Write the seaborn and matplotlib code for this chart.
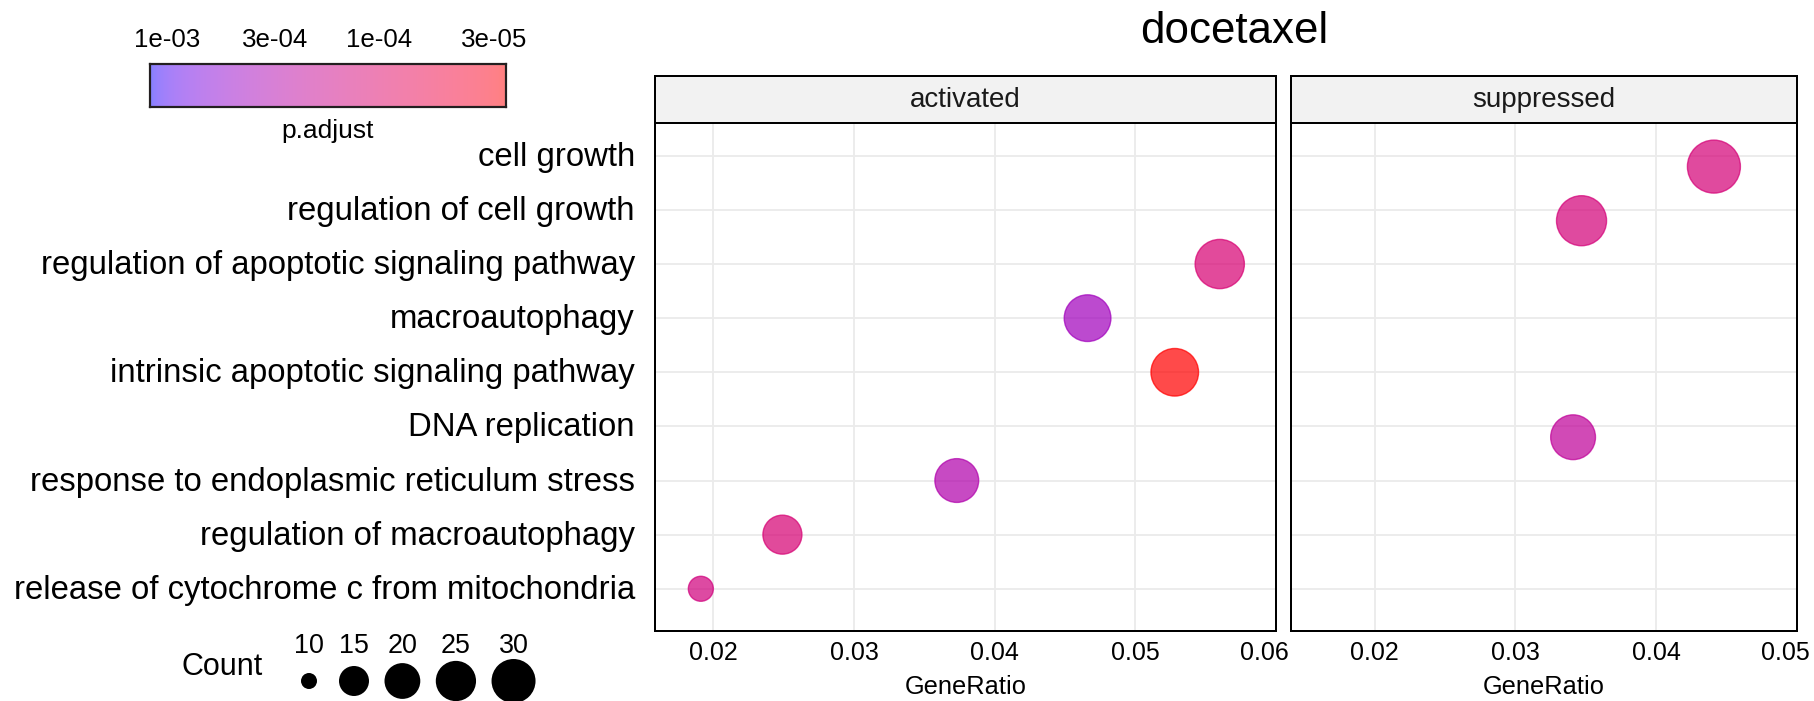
import numpy as np
import pandas as pd
import matplotlib
matplotlib.use("Agg")
import matplotlib.pyplot as plt
import matplotlib.transforms as mtransforms
import seaborn as sns
from matplotlib.colors import LogNorm, ListedColormap
from matplotlib.ticker import FixedLocator, NullLocator, FixedFormatter

# ---------------- data ----------------
terms = [
    "cell growth",
    "regulation of cell growth",
    "regulation of apoptotic signaling pathway",
    "macroautophagy",
    "intrinsic apoptotic signaling pathway",
    "DNA replication",
    "response to endoplasmic reticulum stress",
    "regulation of macroautophagy",
    "release of cytochrome c from mitochondria",
]

act_terms = [
    "regulation of apoptotic signaling pathway",
    "macroautophagy",
    "intrinsic apoptotic signaling pathway",
    "response to endoplasmic reticulum stress",
    "regulation of macroautophagy",
    "release of cytochrome c from mitochondria",
]
act_ratio = [0.0560, 0.0466, 0.0528, 0.0373, 0.0249, 0.0191]
act_count = [25, 22, 23, 19, 15, 10]
act_padj = [1.18e-4, 3.9e-4, 2.65e-5, 3.0e-4, 1.2e-4, 1.43e-4]

sup_terms = ["cell growth", "regulation of cell growth", "DNA replication"]
sup_ratio = [0.0441, 0.0347, 0.0341]
sup_count = [30, 26, 20]
sup_padj = [1.28e-4, 1.3e-4, 2.23e-4]

panels = ["activated", "suppressed"]
x_ticks = [0.02, 0.03, 0.04, 0.05, 0.06]
count_breaks = [10, 15, 20, 25, 30]
padj_ticks = [1e-3, 3e-4, 1e-4, 3e-5]
padj_tick_labels = ["1e-03", "3e-04", "1e-04", "3e-05"]
padj_limits = (2.65e-5, 1.11e-3)
title = "docetaxel"

# ---------------- style ----------------
sns.set_style("white")
plt.rcParams["font.family"] = ["Liberation Sans", "DejaVu Sans"]

W, H = 1815, 701
DPI = 100
PX = 72.0 / DPI  # points per pixel

# ---- Lab interpolated red -> blue gradient (like ggplot) ----
WHITE = np.array([0.95047, 1.0, 1.08883])
M = np.array([[0.4124564, 0.3575761, 0.1804375],
              [0.2126729, 0.7151522, 0.0721750],
              [0.0193339, 0.1191920, 0.9503041]])
Minv = np.linalg.inv(M)


def srgb_to_lab(c):
    c = np.asarray(c, float)
    lin = np.where(c <= 0.04045, c / 12.92, ((c + 0.055) / 1.055) ** 2.4)
    xyz = M @ lin / WHITE
    d = 6 / 29
    f = np.where(xyz > d ** 3, np.cbrt(xyz), xyz / (3 * d ** 2) + 4 / 29)
    return np.array([116 * f[1] - 16, 500 * (f[0] - f[1]), 200 * (f[1] - f[2])])


def lab_to_srgb(lab):
    L, a, b = lab
    fy_ = (L + 16) / 116
    f = np.array([fy_ + a / 500, fy_, fy_ - b / 200])
    d = 6 / 29
    xyz = np.where(f > d, f ** 3, 3 * d ** 2 * (f - 4 / 29)) * WHITE
    lin = np.clip(Minv @ xyz, 0, 1)
    return np.where(lin <= 0.0031308, 12.92 * lin, 1.055 * lin ** (1 / 2.4) - 0.055)


lab_red = srgb_to_lab([1, 0, 0])
lab_blue = srgb_to_lab([0, 0, 1])
grad = np.array([lab_to_srgb(lab_red * (1 - t) + lab_blue * t)
                 for t in np.linspace(0, 1, 256)])
grad = np.clip(grad, 0, 1)
cmap_pts = ListedColormap(grad)
cmap_bar = ListedColormap(0.5 * grad + 0.5)
norm = LogNorm(vmin=padj_limits[0], vmax=padj_limits[1])


# size mapping (pixel diameter -> scatter area in pt^2)
def count_to_area(c):
    d = 25.0 + 6.26 * np.sqrt(max(c - 10, 0))
    return (d * PX) ** 2


all_counts = sorted(set(act_count + sup_count))
size_map = {c: count_to_area(c) for c in all_counts}

df_act = pd.DataFrame({"Description": act_terms, "GeneRatio": act_ratio,
                       "Count": act_count, "p.adjust": act_padj})
df_sup = pd.DataFrame({"Description": sup_terms, "GeneRatio": sup_ratio,
                       "Count": sup_count, "p.adjust": sup_padj})
df_act["y"] = [terms.index(t) for t in df_act["Description"]]
df_sup["y"] = [terms.index(t) + 0.2 for t in df_sup["Description"]]

fig = plt.figure(figsize=(W / DPI, H / DPI), dpi=DPI)


def fx(px):
    return px / W


def fy(py):
    return 1 - py / H


def shift(artist, dx_px, dy_px=0.0):
    artist.set_transform(artist.get_transform() +
                         mtransforms.Affine2D().translate(dx_px, dy_px))


panel_top, panel_bot = 123.3, 631.0
strip_top = 76.0
boxes = {"activated": (655, 1276, 0.01584, 0.0600, df_act),
         "suppressed": (1291, 1797, 0.01407, 0.04996, df_sup)}

for name in panels:
    x0, x1, lo, hi, df = boxes[name]
    ax = fig.add_axes([fx(x0), fy(panel_bot), fx(x1 - x0), (panel_bot - panel_top) / H])
    sns.scatterplot(data=df, x="GeneRatio", y="y", hue="p.adjust", hue_norm=norm,
                    palette=cmap_pts, size="Count", sizes=size_map, alpha=0.71,
                    edgecolor="face", linewidth=1.0, legend=False, ax=ax, zorder=3)
    ax.set_xlim(lo, hi)
    ax.set_ylim(8.78, -0.6)
    ticks = [t for t in x_ticks if lo <= t <= hi + 1e-4]
    ax.set_xticks(ticks)
    ax.set_xticklabels([f"{t:.2f}" for t in ticks])
    ax.set_yticks(range(len(terms)))
    if name == "activated":
        ax.set_yticklabels(terms)
    else:
        ax.set_yticklabels([])
    ax.tick_params(axis="y", length=0, pad=20 * PX, labelsize=23.7, labelcolor="black")
    ax.tick_params(axis="x", length=0, pad=7.4, labelsize=18, labelcolor="black")
    for lab in ax.get_yticklabels():
        shift(lab, 0, 2.0)
    # last tick label sits slightly inside the panel edge as in the reference
    xl = ax.get_xticklabels()
    if ticks and abs(ticks[-1] - hi) < 1e-3:
        shift(xl[-1], -12.0)
    ax.grid(True, color="#EBEBEB", linewidth=1.3)
    ax.set_axisbelow(True)
    for s in ax.spines.values():
        s.set_linewidth(2 * PX)
        s.set_color("black")
    ax.set_ylabel("")
    ax.set_xlabel("GeneRatio", fontsize=18.3, color="black")
    ax.xaxis.set_label_coords(0.5, -44.0 / (panel_bot - panel_top))
    ax.xaxis.label.set_va("top")

    # strip
    sax = fig.add_axes([fx(x0), fy(panel_top), fx(x1 - x0), (panel_top - strip_top) / H])
    sax.set_facecolor("#F2F2F2")
    sax.set_xticks([])
    sax.set_yticks([])
    for s in sax.spines.values():
        s.set_linewidth(2 * PX)
        s.set_color("black")
    sax.text(0.5, 0.5, name, ha="center", va="center", fontsize=20,
             color="#1A1A1A", transform=sax.transAxes)

# title
fig.text(fx(1234), fy(43), title, ha="center", va="baseline", fontsize=31.6, color="black")

# ---------------- colour bar legend ----------------
cax = fig.add_axes([fx(150), fy(107.3), fx(356), 43.3 / H])
cax.set_xscale("log")
edges = np.logspace(np.log10(padj_limits[0]), np.log10(padj_limits[1]), 257)
centers = np.sqrt(edges[:-1] * edges[1:])
cax.pcolormesh(edges, [0, 1], centers[None, :], cmap=cmap_bar, norm=norm, shading="flat")
cax.set_xlim(padj_limits[1], padj_limits[0])
cax.set_ylim(0, 1)
cax.xaxis.set_major_locator(FixedLocator(padj_ticks))
cax.xaxis.set_major_formatter(FixedFormatter(padj_tick_labels))
cax.xaxis.set_minor_locator(NullLocator())
cax.set_yticks([])
cax.tick_params(axis="x", which="major", direction="in", length=6.5 * PX, width=2 * PX,
                color="#1A1A1A", top=True, bottom=True, labeltop=True, labelbottom=False,
                labelsize=18.6, pad=8.5, labelcolor="black")
for s in cax.spines.values():
    s.set_linewidth(2.2 * PX)
    s.set_color("#231F20")
fig.canvas.draw()
cl = cax.xaxis.get_majorticklabels()
shift(cl[0], 7.0)
fig.text(fx(328), fy(138), "p.adjust", ha="center", va="baseline", fontsize=19, color="black")

# ---------------- size legend ----------------
ov = fig.add_axes([0, 0, 1, 1], zorder=10)
ov.set_xlim(0, W)
ov.set_ylim(H, 0)
ov.axis("off")
ov.patch.set_alpha(0)

leg_d = [16.0 + 6.26 * np.sqrt(c - 10) for c in count_breaks]
key_w = [max(d, 29.0) for d in leg_d]
cx = [309.0]
for i in range(1, len(count_breaks)):
    cx.append(cx[-1] + (key_w[i - 1] + key_w[i]) / 2 + 15.5)
ov.scatter(cx, [681] * len(cx), s=[(d * PX) ** 2 for d in leg_d], color="black",
           linewidths=0)
for x, c in zip(cx, count_breaks):
    ov.text(x, 652.7, str(c), ha="center", va="baseline", fontsize=19.4, color="black")
ov.text(222.5, 675, "Count", ha="center", va="baseline", fontsize=22, color="black")

fig.savefig("out.png", dpi=DPI)
